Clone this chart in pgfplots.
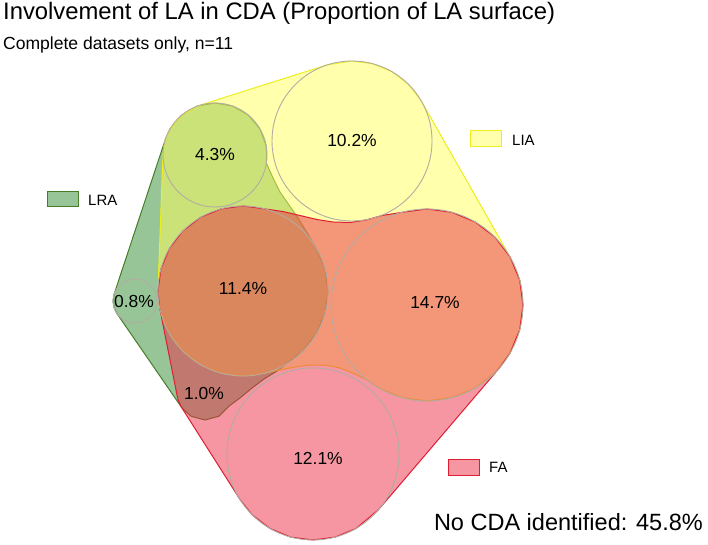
\documentclass[border=0pt]{standalone}
\usepackage{fontspec}
\setmainfont{Liberation Sans}
\usepackage{pgfplots}
\pgfplotsset{compat=1.18}
\definecolor{lra}{RGB}{50,140,50}
\definecolor{lraline}{RGB}{70,125,40}
\definecolor{lia}{RGB}{255,255,90}
\definecolor{lialine}{RGB}{238,238,30}
\definecolor{fa}{RGB}{235,45,70}
\definecolor{faline}{RGB}{222,30,50}
\definecolor{circ}{RGB}{178,172,162}
\begin{document}
\begin{tikzpicture}
\begin{axis}[x=1bp, y=1bp, xmin=0, xmax=708, ymin=0, ymax=545, y dir=reverse,
  axis line style={draw=none}, xtick=\empty, ytick=\empty, clip=false]
% LRA hull
\addplot[fill=lra, fill opacity=0.5, draw=lraline, line width=1bp, line join=round] coordinates {
(266.4,163.1) (266.2,146.0) (260.0,129.0) (248.4,115.2) (232.8,106.1) (215,103) (197.2,106.1) (181.6,115.2) (170.0,129.0) (165.6,138.7)
(114.1,294.1) (113,301) (114.3,308.5) (116.9,313.5)
(181.9,407.9) (191,416.2) (205,420) (219,416.2) (229.2,406)
(240,398) (252,388) (264,379) (277,371)
(285.5,364.6) (303.1,351.1) (316.6,333.5) (325.1,313.0) (328,291) (325.1,269.0) (316.6,248.5) (312.6,242.2)
(306,231) (298,218) (289,205) (280,192) (273,178)
} -- cycle;
% LIA hull
\addplot[fill=lia, fill opacity=0.5, draw=lialine, line width=1bp, line join=round] coordinates {
(199.3,105.4) (181.6,115.2) (170.0,129.0) (164.8,141.5) (163.0,153.1)
(158.1,287.9) (158.8,302.8) (160.9,313.0) (169.4,333.5) (182.9,351.1) (200.5,364.6) (221.0,373.1) (243,376) (265.0,373.1)
(280,370) (295,367) (310,365) (325,365) (340,368) (355,374) (367,380)
(379,388.1) (402.2,397.7) (427,401) (451.8,397.7) (475,388.1) (494.9,372.9) (510.1,353) (519.7,329.8) (523,305) (519.7,280.2) (510.4,257.5)
(421.5,101.4) (408.6,84.4) (392,71.7) (372.7,63.7) (352,61) (327.8,64.7)
} -- cycle;
% FA hull
\addplot[fill=fa, fill opacity=0.5, draw=faline, line width=1bp, line join=round] coordinates {
(265.0,208.9) (243,206) (221.0,208.9) (200.5,217.4) (182.9,230.9) (169.4,248.5) (160.9,269.0) (158,291) (159.6,307.6)
(177.5,397.5) (178.7,401.6) (181.3,407)
(240.4,500.1) (252.2,514.8) (270,528.5) (290.7,537.1) (313,540) (335.3,537.1) (356,528.5) (378.4,509.8)
(500,367.3) (510.1,353) (519.7,329.8) (523,305) (519.7,280.2) (510.1,257) (494.9,237.1) (475,221.9) (451.8,212.3) (427,209) (402.2,212.3)
(382,215.5) (366,220) (350,222.5) (333,222) (317,219.5) (300,215.5) (283,211.5)
} -- cycle;
% circles
\addplot[only marks, mark=o, mark size=52bp, mark options={draw=circ, line width=0.9bp}] coordinates {(215,155)};
\addplot[only marks, mark=o, mark size=80bp, mark options={draw=circ, line width=0.9bp}] coordinates {(352,141)};
\addplot[only marks, mark=o, mark size=85bp, mark options={draw=circ, line width=0.9bp}] coordinates {(243,291)};
\addplot[only marks, mark=o, mark size=22bp, mark options={draw=circ, line width=0.9bp}] coordinates {(135,301)};
\addplot[only marks, mark=o, mark size=96bp, mark options={draw=circ, line width=0.9bp}] coordinates {(427,305)};
\addplot[only marks, mark=o, mark size=86bp, mark options={draw=circ, line width=0.9bp}] coordinates {(313,454)};
% region labels
\addplot[only marks, mark=none, nodes near coords, point meta=explicit symbolic,
  every node near coord/.style={anchor=center, font=\fontsize{17.5}{20}\selectfont, text=black}]
  table[meta=lab] {
x y lab
215 154 4.3\%
352 140 10.2\%
243 289 11.4\%
134 301 0.8\%
435 303 14.7\%
318 458 12.1\%
204 393 1.0\%
};
% legend boxes
\addplot[fill=lra, fill opacity=0.5, draw=lraline, line width=1bp] coordinates {(47,192) (78,192) (78,207) (47,207)} -- cycle;
\addplot[fill=lia, fill opacity=0.5, draw=lialine, line width=1bp] coordinates {(470,131) (501,131) (501,147) (470,147)} -- cycle;
\addplot[fill=fa, fill opacity=0.5, draw=faline, line width=1bp] coordinates {(448,459) (479,459) (479,475) (448,475)} -- cycle;
\node[anchor=west, font=\fontsize{15}{18}\selectfont, inner sep=0pt] at (axis cs:88,200) {LRA};
\node[anchor=west, font=\fontsize{15}{18}\selectfont, inner sep=0pt] at (axis cs:512,140) {LIA};
\node[anchor=west, font=\fontsize{15}{18}\selectfont, inner sep=0pt] at (axis cs:489,467) {FA};
% texts
\node[anchor=base west, font=\fontsize{23.9}{27}\selectfont, inner sep=0pt] at (axis cs:3,20) {Involvement of LA in CDA (Proportion of LA surface)};
\node[anchor=base west, font=\fontsize{17.6}{20}\selectfont, inner sep=0pt] at (axis cs:3,50) {Complete datasets only, n=11};
\node[anchor=base east, font=\fontsize{23.6}{27}\selectfont, inner sep=0pt] at (axis cs:703,530) {No CDA identified: 45.8\%};
\end{axis}
\end{tikzpicture}
\end{document}
